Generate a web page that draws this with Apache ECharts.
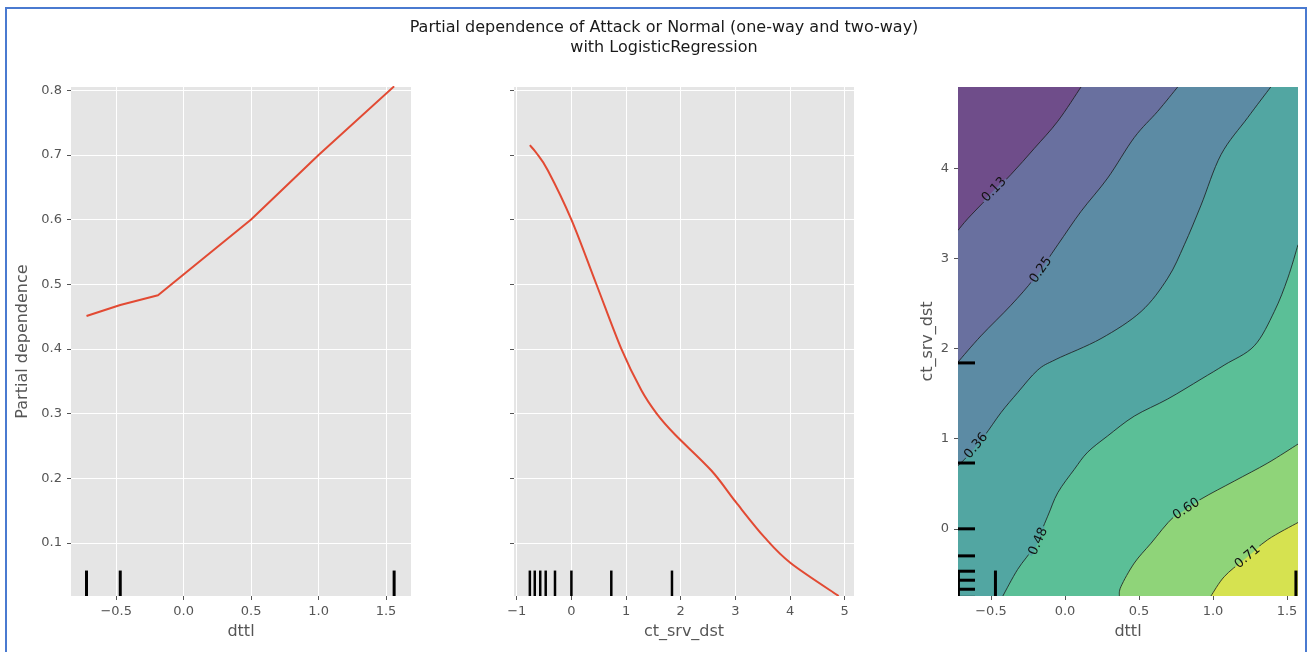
<!DOCTYPE html>
<html>
<head>
<meta charset="utf-8">
<script src="https://cdn.jsdelivr.net/npm/echarts@6/dist/echarts.min.js"></script>
<style>
  html, body { margin: 0; padding: 0; background: #fff; }
  #chart { width: 1309px; height: 652px; }
</style>
</head>
<body>
<div id="chart"></div>
<script>
// one-way partial dependence, feature dttl
const dttlGrid = [-0.72, -0.47, -0.19, 0.5, 1.0, 1.56];
const dttlPd = [0.451, 0.468, 0.483, 0.600, 0.700, 0.806];
const dttlDeciles = [-0.72, -0.47, 1.56];

// one-way partial dependence, feature ct_srv_dst
const srvGrid = [-0.76, -0.64, -0.43, 0.0, 0.457, 0.914, 1.28, 1.56, 1.89, 2.56, 3.01, 3.53, 4.01, 4.89];
const srvPd = [0.715, 0.703, 0.676, 0.600, 0.500, 0.400, 0.336, 0.300, 0.268, 0.212, 0.163, 0.109, 0.069, 0.018];
const srvDeciles = [-0.76, -0.67, -0.57, -0.47, -0.30, 0.0, 0.73, 1.84];

// tick labels
const pdTicks = [0.1, 0.2, 0.3, 0.4, 0.5, 0.6, 0.7, 0.8];
const dttlTicks = [-0.5, 0.0, 0.5, 1.0, 1.5];
const srvTicks = [-1, 0, 1, 2, 3, 4, 5];
const srvTicks2d = [0, 1, 2, 3, 4];

// two-way partial dependence: contour lines (dttl, ct_srv_dst)
const level013 = [[-0.723, 3.31], [-0.657, 3.44], [-0.522, 3.67], [-0.365, 3.93], [-0.207, 4.22], [-0.049, 4.52], [0.108, 4.9]];
const level025 = [[-0.723, 1.85], [-0.568, 2.14], [-0.365, 2.48], [-0.207, 2.78], [-0.049, 3.15], [0.108, 3.52], [0.288, 3.89], [0.468, 4.34], [0.626, 4.63], [0.761, 4.9]];
const level036 = [[-0.723, 0.70], [-0.657, 0.81], [-0.545, 1.03], [-0.432, 1.29], [-0.32, 1.51], [-0.185, 1.76], [-0.06, 1.88], [0.243, 2.11], [0.514, 2.41], [0.694, 2.78], [0.806, 3.15], [0.919, 3.59], [1.054, 4.15], [1.234, 4.56], [1.39, 4.9]];
const level048 = [[-0.42, -0.745], [-0.32, -0.45], [-0.207, -0.19], [-0.117, 0.14], [-0.049, 0.40], [0.063, 0.66], [0.153, 0.85], [0.288, 1.03], [0.468, 1.25], [0.694, 1.44], [0.919, 1.66], [1.08, 1.82], [1.279, 2.03], [1.414, 2.41], [1.505, 2.78], [1.574, 3.15]];
const level060 = [[0.367, -0.745], [0.378, -0.64], [0.468, -0.38], [0.581, -0.16], [0.739, 0.14], [0.919, 0.33], [1.144, 0.53], [1.37, 0.73], [1.574, 0.94]];
const level071 = [[0.986, -0.745], [1.076, -0.53], [1.21, -0.34], [1.37, -0.12], [1.574, 0.07]];
const contourLines = [level013, level025, level036, level048, level060, level071];

const labelText = ['0.13', '0.25', '0.36', '0.48', '0.60', '0.71'];
const labelX = [-0.478, -0.162, -0.60, -0.18, 0.82, 1.234];
const labelY = [3.76, 2.87, 0.92, -0.14, 0.22, -0.31];

// viridis at alpha 0.75 over the grey axes face
const bandColors = ['#6f4d8a', '#69709f', '#5c8ba4', '#52a6a2', '#5bbf97', '#8fd479', '#d6e250'];

const X2_MIN = -0.723, X2_MAX = 1.574, Y2_MIN = -0.745, Y2_MAX = 4.9;
const FONT = 'DejaVu Sans';

function fmt(digits) {
  return v => Number(v).toFixed(digits).replace('-', '\u2212');
}

function axis(gridIndex, min, max, ticks, digits, opts) {
  return Object.assign({
    type: 'value', gridIndex, min, max,
    axisLine: { show: false, onZero: false },
    axisTick: { show: true, length: 4, lineStyle: { color: '#555' }, customValues: ticks },
    axisLabel: { color: '#555', fontSize: 13, fontFamily: FONT, margin: 9, formatter: fmt(digits), customValues: ticks },
    splitLine: { show: true, lineStyle: { color: '#fff', width: 1 } },
    nameTextStyle: { color: '#555', fontSize: 16, fontFamily: FONT },
    nameLocation: 'middle'
  }, opts || {});
}

function rug(xi, yi, values, vertical, width) {
  return {
    type: 'custom', xAxisIndex: xi, yAxisIndex: yi, clip: true, z: 5, silent: true,
    data: values.map(v => [v]),
    renderItem(params, api) {
      const cs = params.coordSys;
      const v = api.value(0);
      if (vertical) {
        const x = api.coord([v, 0])[0];
        return { type: 'line', shape: { x1: x, y1: cs.y + cs.height, x2: x, y2: cs.y + cs.height * 0.95 },
          style: { stroke: '#000', lineWidth: width } };
      }
      const y = api.coord([0, v])[1];
      return { type: 'line', shape: { x1: cs.x, y1: y, x2: cs.x + cs.width * 0.05, y2: y },
        style: { stroke: '#000', lineWidth: width } };
    }
  };
}

// Catmull-Rom curve through the pixel points, as svg path data
function curvePath(pts) {
  let d = 'M' + pts[0][0] + ',' + pts[0][1];
  for (let i = 0; i < pts.length - 1; i++) {
    const p0 = pts[i - 1] || pts[i], p1 = pts[i], p2 = pts[i + 1], p3 = pts[i + 2] || p2;
    const c1x = p1[0] + (p2[0] - p0[0]) / 6, c1y = p1[1] + (p2[1] - p0[1]) / 6;
    const c2x = p2[0] - (p3[0] - p1[0]) / 6, c2y = p2[1] - (p3[1] - p1[1]) / 6;
    d += ' C' + c1x + ',' + c1y + ' ' + c2x + ',' + c2y + ' ' + p2[0] + ',' + p2[1];
  }
  return d;
}

function labelAngle(line, q, api) {
  let best = 0, bestD = Infinity;
  for (let i = 0; i < line.length - 1; i++) {
    const p = api.coord([(line[i][0] + line[i + 1][0]) / 2, (line[i][1] + line[i + 1][1]) / 2]);
    const d = (p[0] - q[0]) ** 2 + (p[1] - q[1]) ** 2;
    if (d < bestD) { bestD = d; best = i; }
  }
  const a = api.coord(line[best]), b = api.coord(line[best + 1]);
  let ang = Math.atan2(-(b[1] - a[1]), b[0] - a[0]);
  if (ang > Math.PI / 2) ang -= Math.PI;
  if (ang < -Math.PI / 2) ang += Math.PI;
  return ang;
}

const chart = echarts.init(document.getElementById('chart'), null, { renderer: 'canvas' });

const series = [
  {
    type: 'line', xAxisIndex: 0, yAxisIndex: 0, showSymbol: false, silent: true,
    data: dttlGrid.map((x, i) => [x, dttlPd[i]]),
    lineStyle: { color: '#E24A33', width: 2 }, z: 3
  },
  // smoothed through the read points with the same curve helper as the contours
  {
    type: 'custom', xAxisIndex: 1, yAxisIndex: 1, clip: true, z: 3, silent: true,
    data: [[0, 0.5]],
    renderItem(params, api) {
      const d = curvePath(srvGrid.map((x, i) => api.coord([x, srvPd[i]])));
      return { type: 'path', shape: { pathData: d }, style: { fill: null, stroke: '#E24A33', lineWidth: 2 } };
    }
  },
  rug(0, 0, dttlDeciles, true, 3),
  rug(1, 1, srvDeciles, true, 2.5),
  // filled contour: paint nested regions from lowest level up
  {
    type: 'custom', xAxisIndex: 2, yAxisIndex: 2, clip: true, z: 1, silent: true,
    data: [-1, 0, 1, 2, 3, 4, 5].map(i => [0, 0, i]),
    renderItem(params, api) {
      const idx = api.value(2);
      const cs = params.coordSys;
      if (idx < 0) {
        return { type: 'rect', shape: { x: cs.x, y: cs.y, width: cs.width, height: cs.height },
          style: { fill: bandColors[0] } };
      }
      const corners = [[X2_MAX, Y2_MAX], [X2_MAX, Y2_MIN], [X2_MIN, Y2_MIN]].map(p => api.coord(p));
      let d = curvePath(contourLines[idx].map(p => api.coord(p)));
      corners.forEach(c => { d += ' L' + c[0] + ',' + c[1]; });
      d += ' Z';
      return { type: 'path', shape: { pathData: d }, style: { fill: bandColors[idx + 1] } };
    }
  },
  // contour lines
  {
    type: 'custom', xAxisIndex: 2, yAxisIndex: 2, clip: true, z: 2, silent: true,
    data: [0, 1, 2, 3, 4, 5].map(i => [0, 0, i]),
    renderItem(params, api) {
      const d = curvePath(contourLines[api.value(2)].map(p => api.coord(p)));
      return { type: 'path', shape: { pathData: d }, style: { fill: null, stroke: '#1a1a1a', lineWidth: 0.8 } };
    }
  },
  // inline contour labels
  {
    type: 'custom', xAxisIndex: 2, yAxisIndex: 2, clip: true, z: 3, silent: true,
    data: labelText.map((t, i) => [labelX[i], labelY[i], i]),
    renderItem(params, api) {
      const i = api.value(2);
      const q = api.coord([api.value(0), api.value(1)]);
      const w = 32, h = 8;
      return {
        type: 'group', x: q[0], y: q[1], rotation: labelAngle(contourLines[i], q, api),
        children: [
          { type: 'rect', shape: { x: -w / 2, y: -h / 2, width: w, height: h / 2 + 0.5 }, style: { fill: bandColors[i] } },
          { type: 'rect', shape: { x: -w / 2, y: 0, width: w, height: h / 2 }, style: { fill: bandColors[i + 1] } },
          { type: 'text', style: { text: labelText[i], x: 0, y: 0, fill: '#111', font: '13px "DejaVu Sans"',
            align: 'center', verticalAlign: 'middle' } }
        ]
      };
    }
  }
];

series.push(rug(2, 2, dttlDeciles, true, 3));
series.push(rug(2, 2, srvDeciles, false, 3));

chart.setOption({
  animation: false,
  grid: [
    { left: 71, top: 87, width: 340, height: 509, show: true, backgroundColor: '#E5E5E5', borderWidth: 0 },
    { left: 514, top: 87, width: 340, height: 509, show: true, backgroundColor: '#E5E5E5', borderWidth: 0 },
    { left: 958, top: 87, width: 340, height: 509, show: false }
  ],
  xAxis: [
    axis(0, -0.835, 1.685, dttlTicks, 1, { name: 'dttl', nameGap: 28 }),
    axis(1, -1.05, 5.17, srvTicks, 0, { name: 'ct_srv_dst', nameGap: 28 }),
    axis(2, X2_MIN, X2_MAX, dttlTicks, 1, { name: 'dttl', nameGap: 28, splitLine: { show: false } })
  ],
  yAxis: [
    axis(0, 0.018, 0.805, pdTicks, 1, { name: 'Partial dependence', nameGap: 40 }),
    axis(1, 0.018, 0.805, pdTicks, 1),
    axis(2, Y2_MIN, Y2_MAX, srvTicks2d, 0, { name: 'ct_srv_dst', nameGap: 22, splitLine: { show: false } })
  ],
  graphic: [
    { type: 'text', x: 664, y: 28, style: { text: 'Partial dependence of Attack or Normal (one-way and two-way)',
      font: '16px "DejaVu Sans"', fill: '#1a1a1a', align: 'center', verticalAlign: 'middle' } },
    { type: 'text', x: 664, y: 48, style: { text: 'with LogisticRegression',
      font: '16px "DejaVu Sans"', fill: '#1a1a1a', align: 'center', verticalAlign: 'middle' } },
    { type: 'rect', shape: { x: 6, y: 8, width: 1300, height: 700 }, z: 100,
      style: { fill: 'none', stroke: '#4a7ad0', lineWidth: 2 } }
  ],
  series
});

// middle panel shares the y scale: ticks only, no labels
chart.setOption({ yAxis: [{}, { axisLabel: { show: false } }, {}] });
</script>
</body>
</html>
